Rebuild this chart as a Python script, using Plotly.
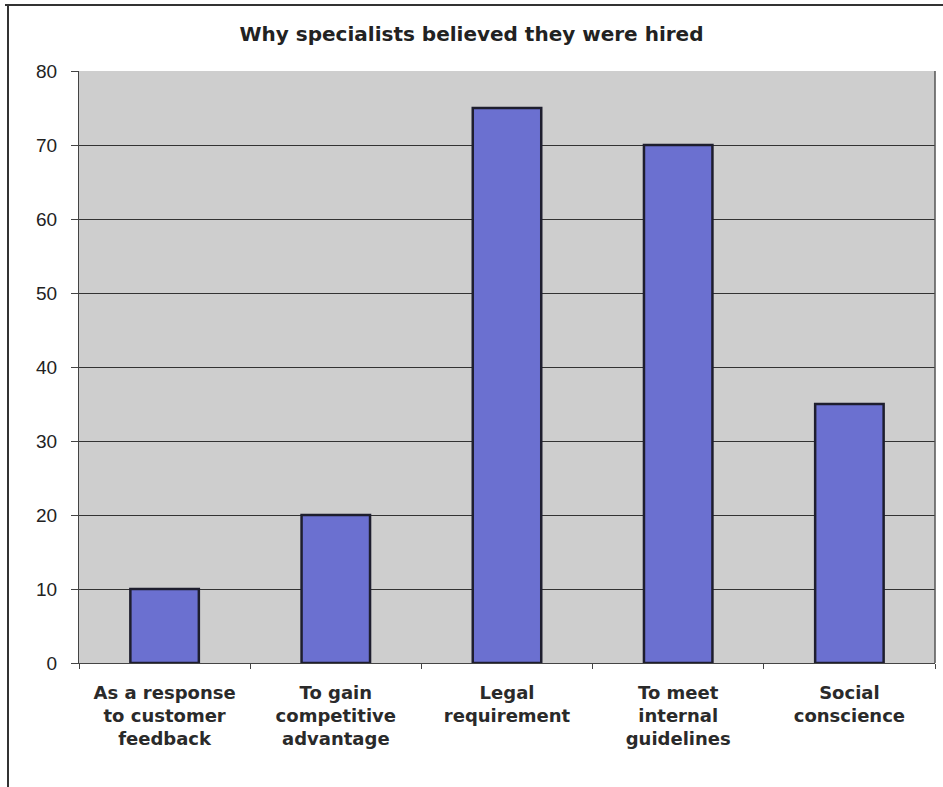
import plotly.graph_objects as go

categories = ["As a response<br>to customer<br>feedback",
              "To gain<br>competitive<br>advantage",
              "Legal<br>requirement",
              "To meet<br>internal<br>guidelines",
              "Social<br>conscience"]
values = [10, 20, 75, 70, 35]
y_ticks = [0, 10, 20, 30, 40, 50, 60, 70, 80]

W, H = 943, 787
L, R, T, B = 79, 8, 71, 124
pw, ph = W - L - R, H - T - B

def px_x(x):
    return (x - L) / pw

def px_y(y):
    return (H - B - y) / ph

fig = go.Figure(go.Bar(
    x=categories, y=values,
    marker=dict(color="#6B70D0", line=dict(color="#1E1E2E", width=2.5)),
    width=0.4,
))

fig.update_layout(
    width=W, height=H,
    margin=dict(l=L, r=R, t=T, b=B),
    paper_bgcolor="white",
    plot_bgcolor="#CECECE",
    showlegend=False,
    title=dict(text="<b>Why specialists believed they were hired</b>",
               x=0.5, xref="container", xanchor="center",
               y=1 - 34 / H, yanchor="middle",
               font=dict(family="DejaVu Sans", size=20, color="#222")),
    xaxis=dict(
        tickfont=dict(family="DejaVu Sans", size=18, color="#2a2a2a", weight="bold"),
        showgrid=False, showline=True, linecolor="#444", linewidth=1,
        ticks="outside", ticklen=5, tickcolor="#444", tickson="boundaries",
        ticklabelstandoff=13,
        mirror=False,
    ),
    yaxis=dict(
        range=[0, 80], tickvals=y_ticks,
        tickfont=dict(family="Arial, Liberation Sans", size=19, color="#222"),
        showgrid=True, gridcolor="#333", gridwidth=1,
        showline=True, linecolor="#444", linewidth=1,
        ticks="outside", ticklen=7, tickcolor="#444",
        ticklabelstandoff=10,
        zeroline=False,
    ),
    shapes=[
        dict(type="line", xref="paper", yref="paper",
             x0=px_x(5), x1=px_x(943), y0=px_y(5), y1=px_y(5),
             line=dict(color="#333", width=2)),
        dict(type="line", xref="paper", yref="paper",
             x0=px_x(8), x1=px_x(8), y0=px_y(5), y1=px_y(787),
             line=dict(color="#333", width=2)),
        dict(type="line", xref="paper", yref="paper",
             x0=1, x1=1, y0=0, y1=1,
             line=dict(color="#555", width=1.5)),
    ],
)

fig.write_html("out.html", config={"displayModeBar": False},
               post_script="document.body.style.margin='0px';")
